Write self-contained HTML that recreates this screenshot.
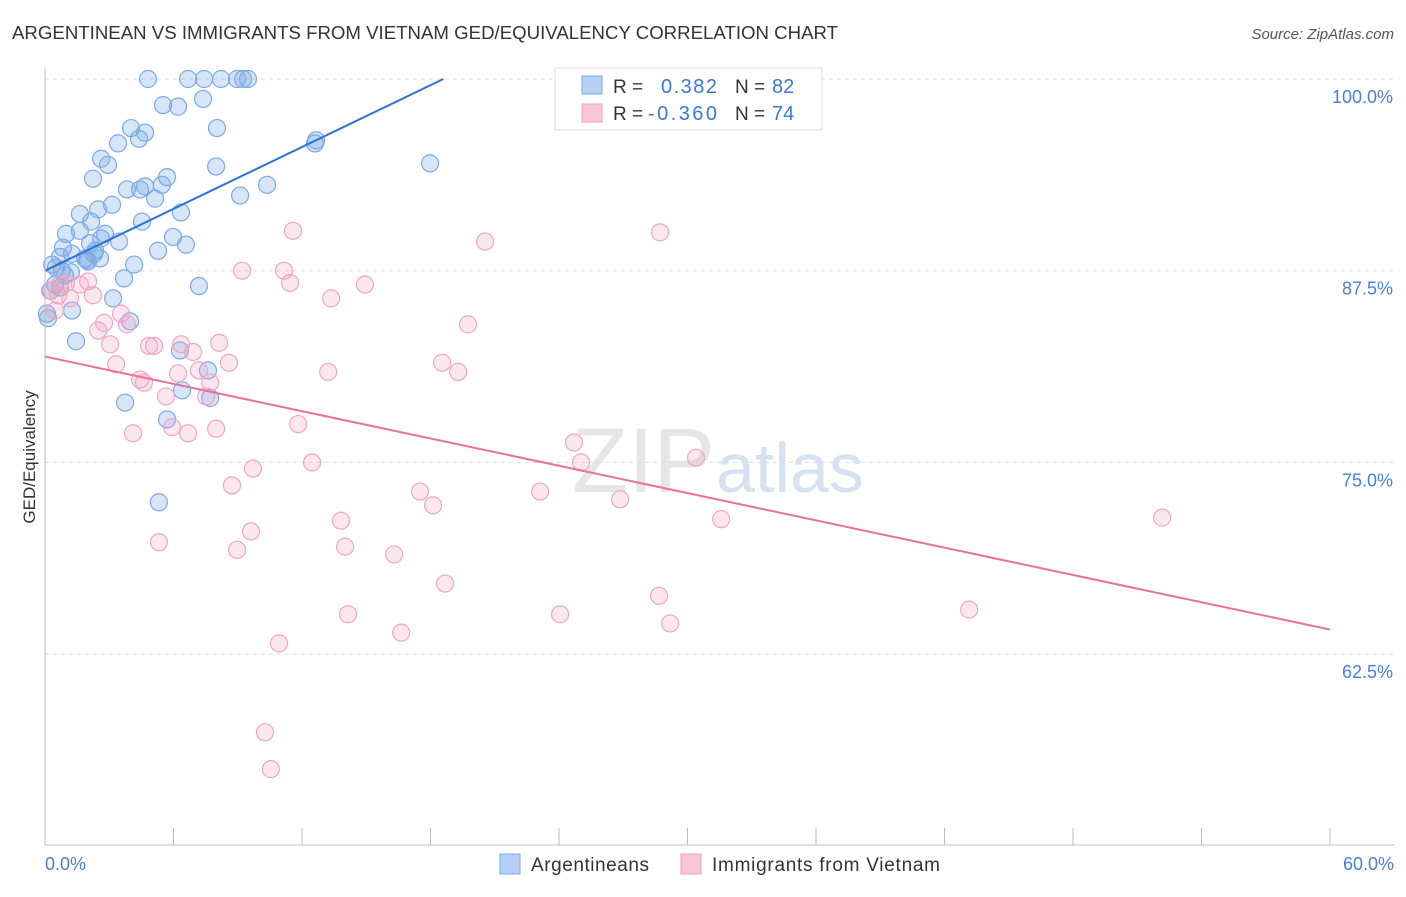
<!DOCTYPE html>
<html><head><meta charset="utf-8"><style>
body{margin:0;background:#fff;font-family:"Liberation Sans",sans-serif;}
svg text{font-family:"Liberation Sans",sans-serif;}
</style></head><body>
<svg id="c" width="1406" height="892">
<text x="12" y="39" font-size="18" fill="#333" textLength="826" lengthAdjust="spacingAndGlyphs">ARGENTINEAN VS IMMIGRANTS FROM VIETNAM GED/EQUIVALENCY CORRELATION CHART</text>
<text x="1394" y="39" font-size="15" fill="#555" text-anchor="end" font-style="italic">Source: ZipAtlas.com</text>
<text x="35" y="457" font-size="17" fill="#333" transform="rotate(-90 35 457)" text-anchor="middle">GED/Equivalency</text>
<text x="715" y="492" font-size="92" fill="#e6e6e6" text-anchor="end" font-family="Liberation Serif">ZIP</text>
<text x="716" y="492" font-size="70" fill="#d6e2f2">atlas</text>
<g id="grid"></g><g id="pts"></g><g id="lines"></g>
<line x1="45" y1="845" x2="1395" y2="845" stroke="#bbb"/>
<line x1="45" y1="68" x2="45" y2="845" stroke="#bbb"/>
<text x="45" y="870" font-size="18" fill="#4a7fd8">0.0%</text>
<text x="1394" y="870" font-size="18" fill="#4a7fd8" text-anchor="end">60.0%</text>
<g>
<rect x="555" y="68" width="267" height="62" fill="#fff" stroke="#ddd"/>
<rect x="582" y="76" width="20" height="18" fill="#b5d0f4" stroke="#7aaae6"/>
<rect x="582" y="104" width="20" height="18" fill="#f9c6d6" stroke="#f0a0bc"/>
<text x="613" y="93" font-size="19" fill="#333">R =</text><text x="661" y="93" font-size="20" fill="#3b78d8" textLength="56">0.382</text>
<text x="735" y="93" font-size="19" fill="#333">N =</text><text x="772" y="93" font-size="20" fill="#3b78d8">82</text>
<text x="613" y="120" font-size="19" fill="#333">R =</text><text x="648" y="120" font-size="20" fill="#3b78d8" textLength="69">-0.360</text>
<text x="735" y="120" font-size="19" fill="#333">N =</text><text x="772" y="120" font-size="20" fill="#3b78d8">74</text>
</g>
<g>
<rect x="500" y="854" width="20" height="20" fill="#b5d0f4" stroke="#7aaae6"/>
<text x="531" y="871" font-size="19" fill="#333" textLength="118">Argentineans</text>
<rect x="681" y="854" width="20" height="20" fill="#f9c6d6" stroke="#f0a0bc"/>
<text x="712" y="871" font-size="19" fill="#333" textLength="228">Immigrants from Vietnam</text>
</g>
</svg>
<script>
const yTicks=[100,87.5,75,62.5];
const yTickLabels=["100.0%","87.5%","75.0%","62.5%"];
const xTicks=[0,6,12,18,24,30,36,42,48,54,60];
const blueX=[4.81,6.68,7.43,8.22,8.97,9.25,9.48,5.51,6.21,7.38,4.02,4.67,8.03,4.39,3.41,2.62,2.94,5.70,2.24,3.83,4.67,4.44,5.46,5.14,3.13,2.48,1.63,6.35,2.15,4.53,0.98,1.63,2.80,5.98,2.62,0.84,6.58,5.28,3.46,2.10,1.26,2.34,0.70,1.87,2.57,2.01,0.33,4.16,0.79,1.21,0.51,3.69,7.19,0.70,0.28,3.18,1.26,0.09,3.97,1.45,6.30,7.61,3.74,5.70,6.40,7.71,5.32,9.11,10.37,7.99,12.66,12.61,17.98,0.14,0.47,0.93,2.29,1.96];
const blueY=[100,100,100,100,100,100,100,98.3,98.2,98.7,96.8,96.5,96.8,96.1,95.8,94.8,94.4,93.6,93.5,92.8,93.0,92.8,93.1,92.2,91.8,91.5,91.2,91.3,90.7,90.7,89.9,90.1,89.9,89.7,89.6,89.0,89.2,88.8,89.4,89.3,88.6,88.8,88.4,88.3,88.3,88.1,87.9,87.9,87.5,87.4,87.7,87.0,86.5,86.4,86.2,85.7,84.9,84.7,84.2,82.9,82.3,81.0,78.9,77.8,79.7,79.2,72.4,92.4,93.1,94.3,96.0,95.8,94.5,84.4,86.6,87.2,88.6,88.2];
const pinkX=[26.15,11.58,20.55,28.72,9.20,11.16,11.44,14.94,13.36,19.75,0.23,0.61,1.17,2.24,1.63,2.01,0.98,2.76,2.48,3.83,3.55,3.04,3.32,4.86,5.09,6.35,6.91,8.13,8.59,4.44,4.62,6.21,5.65,7.71,7.52,7.19,4.11,5.93,6.68,7.99,13.22,18.54,19.29,11.82,12.47,9.71,8.73,17.51,18.12,23.12,24.70,25.03,26.85,30.40,31.57,13.82,14.01,5.32,8.97,9.62,16.30,18.68,28.67,14.15,24.05,29.19,43.15,52.16,16.63,10.93,10.27,10.55,0.70,0.47];
const pinkY=[100,90.1,89.4,90.0,87.5,87.5,86.7,86.6,85.7,84.0,86.2,85.9,85.7,85.9,86.6,86.8,86.7,84.1,83.6,84.0,84.7,82.7,81.4,82.6,82.6,82.7,82.2,82.8,81.5,80.4,80.2,80.8,79.3,80.2,79.3,81.0,76.9,77.3,76.9,77.2,80.9,81.5,80.9,77.5,75.0,74.6,73.5,73.1,72.2,73.1,76.3,75.0,72.6,75.3,71.3,71.2,69.5,69.8,69.3,70.5,69.0,67.1,66.3,65.1,65.1,64.5,65.4,71.4,63.9,63.2,57.4,55.0,86.6,84.9];
const blueTrend=[[0,87.5],[18.6,100]];
const pinkTrend=[[0,81.9],[60,64.1]];
const sx=v=>45+v/60*1285;
const sy=v=>79+(100-v)/12.5*191.7;
const NS="http://www.w3.org/2000/svg";
function mk(t,a,p){const e=document.createElementNS(NS,t);for(const k in a)e.setAttribute(k,a[k]);p.appendChild(e);return e;}
const grid=document.getElementById('grid');
yTicks.forEach((v,i)=>{
 const l=mk('line',{x1:45,x2:1395,y1:sy(v),y2:sy(v),stroke:'#ddd','stroke-dasharray':'4,4'},grid);
 
 
 const t=mk('text',{x:1393,y:sy(v)+24,'font-size':18,fill:'#4a7fd8','text-anchor':'end'},grid);
 t.textContent=yTickLabels[i];
 
 
});
xTicks.forEach(v=>{
 const l=mk('line',{x1:sx(v),x2:sx(v),y1:828,y2:845,stroke:'#bbb'},grid);
 
 
});
const pts=document.getElementById('pts');
blueX.forEach((x,i)=>{
 const c=mk('circle',{cx:sx(x),cy:sy(blueY[i]),r:8.5,fill:'rgba(120,170,230,0.3)',stroke:'#7aaae6','stroke-width':1.2},pts);
 
 
});
pinkX.forEach((x,i)=>{
 const c=mk('circle',{cx:sx(x),cy:sy(pinkY[i]),r:8.5,fill:'rgba(244,160,190,0.25)',stroke:'#f0a6c0','stroke-width':1.2},pts);
 
 
});
const lines=document.getElementById('lines');
const bl=mk('line',{x1:sx(blueTrend[0][0]),y1:sy(blueTrend[0][1]),x2:sx(blueTrend[1][0]),y2:sy(blueTrend[1][1]),stroke:'#2e72d8','stroke-width':2},lines);


const pl=mk('line',{x1:sx(pinkTrend[0][0]),y1:sy(pinkTrend[0][1]),x2:sx(pinkTrend[1][0]),y2:sy(pinkTrend[1][1]),stroke:'#e8709a','stroke-width':2},lines);


</script>
</body></html>
